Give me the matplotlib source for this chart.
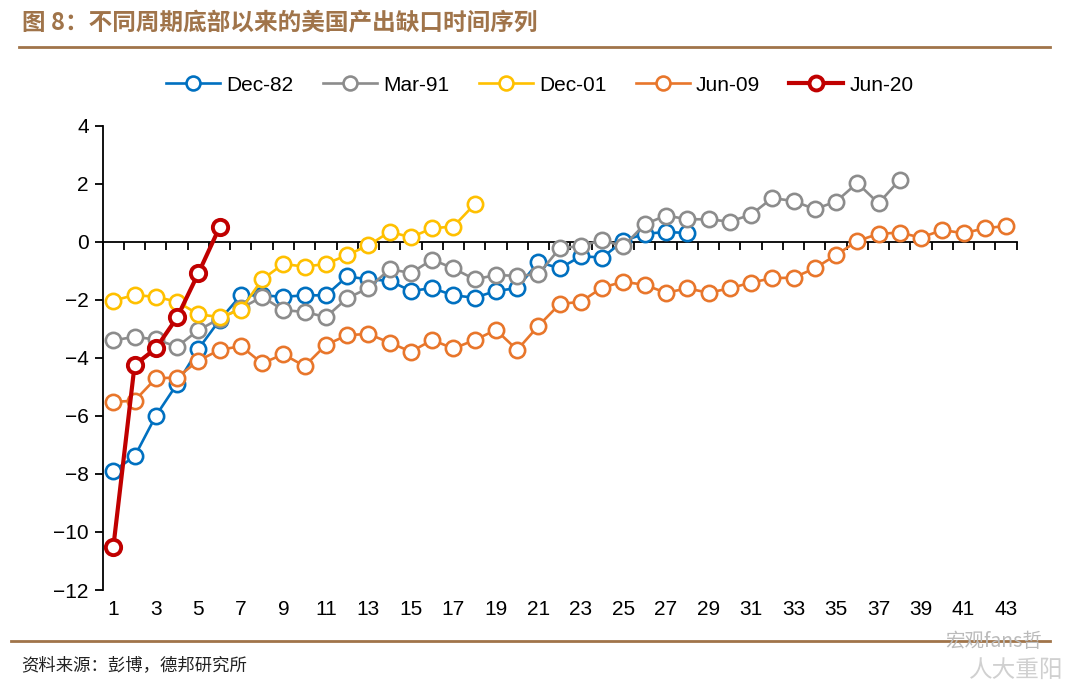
import numpy as np
import matplotlib.pyplot as plt
from matplotlib.lines import Line2D

plt.rcParams['font.family'] = ['Liberation Sans', 'Noto Sans CJK SC', 'DejaVu Sans']
plt.rcParams['axes.unicode_minus'] = True

# Output gap series, months since trough
dec82 = [-7.9, -7.4, -6.0, -4.9, -3.7, -2.7, -1.85, -1.85, -1.9, -1.85, -1.85, -1.2, -1.3, -1.35,
         -1.7, -1.6, -1.85, -1.93, -1.7, -1.6, -0.7, -0.92, -0.5, -0.55, 0.03, 0.27, 0.33, 0.3]
mar91 = [-3.4, -3.28, -3.37, -3.62, -3.05, -2.65, -2.3, -1.9, -2.36, -2.42, -2.6, -1.95, -1.6,
         -0.95, -1.08, -0.62, -0.92, -1.3, -1.15, -1.18, -1.12, -0.23, -0.15, 0.05, -0.16, 0.6,
         0.9, 0.77, 0.77, 0.69, 0.93, 1.5, 1.4, 1.12, 1.38, 2.02, 1.32, 2.13]
dec01 = [-2.03, -1.84, -1.9, -2.07, -2.5, -2.6, -2.35, -1.3, -0.77, -0.86, -0.77, -0.46, -0.13,
         0.34, 0.15, 0.46, 0.52, 1.29]
jun09 = [-5.52, -5.48, -4.71, -4.68, -4.1, -3.73, -3.6, -4.19, -3.88, -4.29, -3.56, -3.22, -3.18,
         -3.48, -3.79, -3.39, -3.68, -3.39, -3.04, -3.73, -2.9, -2.15, -2.07, -1.58, -1.38, -1.49,
         -1.76, -1.61, -1.76, -1.61, -1.41, -1.26, -1.24, -0.92, -0.46, 0.02, 0.27, 0.31, 0.14,
         0.4, 0.29, 0.46, 0.54]
jun20 = [-10.52, -4.25, -3.68, -2.61, -1.09, 0.5]

series = [("Dec-82", dec82, "#0070C0"), ("Mar-91", mar91, "#8C8C8C"),
          ("Dec-01", dec01, "#FFC000"), ("Jun-09", jun09, "#E8762B"),
          ("Jun-20", jun20, "#C00000")]
n_cat = 43
brown = "#A0744A"

fig = plt.figure(figsize=(10.8, 6.93), dpi=100)
ax = fig.add_axes([0.0951, 0.1486, 0.8463, 0.6703])

handles = []
for name, vals, col in series:
    x = np.arange(1, len(vals) + 1)
    if name == "Jun-20":
        lw, mew, ms = 3.0, 2.8, 11
    else:
        lw, mew, ms = 1.9, 1.9, 11
    ax.plot(x, vals, color=col, lw=lw, marker='o', ms=ms, mfc='white', mec=col, mew=mew,
            zorder=3)
    handles.append(Line2D([], [], color=col, lw=lw, marker='o', ms=ms - 1, mfc='white',
                          mec=col, mew=mew))

ax.set_xlim(0.5, n_cat + 0.5)
ax.set_ylim(-12, 4)
ax.set_yticks(np.arange(-12, 5, 2))
ax.tick_params(axis='y', direction='out', length=6, width=1.3, labelsize=15, pad=4)

for s in ['top', 'right']:
    ax.spines[s].set_visible(False)
ax.spines['left'].set_linewidth(1.3)
ax.spines['bottom'].set_position(('data', 0))
ax.spines['bottom'].set_linewidth(1.3)
ax.spines['bottom'].set_zorder(2)
ax.set_xticks(np.arange(0.5, n_cat + 1, 1))
ax.set_xticklabels([])
ax.tick_params(axis='x', direction='out', length=6, width=1.3)

sec = ax.secondary_xaxis('bottom')
sec.spines['bottom'].set_visible(False)
sec.set_xticks(np.arange(1, n_cat + 1, 2))
sec.tick_params(axis='x', length=0, labelsize=15, pad=7)

fig.legend(handles, [s[0] for s in series], loc='center', bbox_to_anchor=(0.5, 0.877),
           ncol=5, frameon=False, fontsize=15, handlelength=2.6, columnspacing=1.4,
           handletextpad=0.3)

# title, rules and source
fig.text(0.02, 0.966, "图 8：不同周期底部以来的美国产出缺口时间序列", fontsize=17,
         fontweight='bold', color=brown, va='center', ha='left',
         family=['Noto Sans CJK SC', 'DejaVu Sans'])
fig.add_artist(Line2D([0.018, 0.972], [0.932, 0.932], color=brown, lw=2))
fig.add_artist(Line2D([0.01, 0.972], [0.075, 0.075], color=brown, lw=2))
fig.text(0.02, 0.04, "资料来源：彭博，德邦研究所", fontsize=12.5, color='#222222',
         va='center', ha='left', family=['Noto Sans CJK SC', 'DejaVu Sans'])
fig.text(0.965, 0.075, "宏观fans哲", fontsize=14, color='#BBBBBB', va='center', ha='right',
         family=['Noto Sans CJK SC', 'DejaVu Sans'])
fig.text(0.985, 0.032, "人大重阳", fontsize=17, color='#D0D0D0', va='center', ha='right',
         family=['Noto Sans CJK SC', 'DejaVu Sans'])

fig.savefig("out.png", dpi=100, facecolor='white')
